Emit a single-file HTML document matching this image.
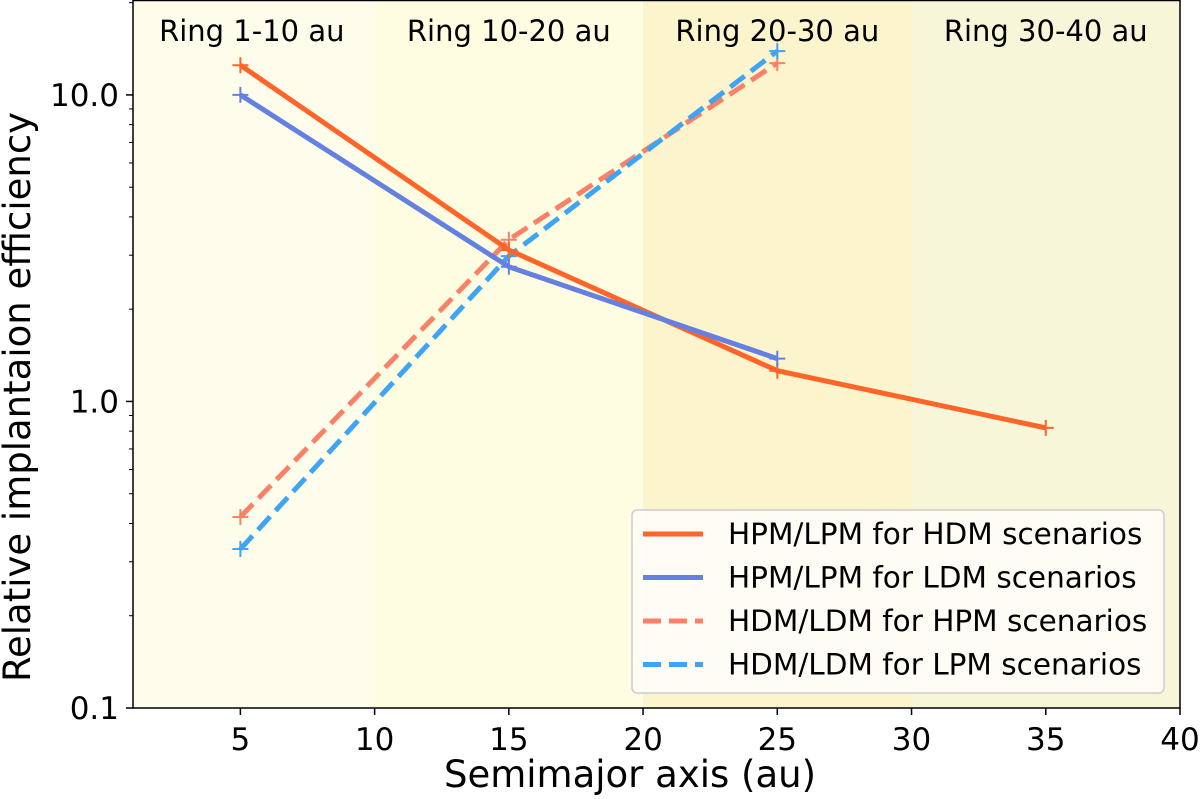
<!DOCTYPE html>
<html><head><meta charset="utf-8"><style>
body{margin:0;background:#fff}
svg{display:block;font-family:"DejaVu Sans","Liberation Sans",sans-serif}
</style></head><body>
<svg id="chart" width="1200" height="799"></svg>
<script>
const categories=[5,15,25,35];
const hdmSeries=[12.5,3.12,1.26,0.82];
const ldmSeries=[10.0,2.75,1.38];
const hpmSeries=[0.42,3.37,12.7];
const lpmSeries=[0.33,2.98,13.9];
const xTicks=[5,10,15,20,25,30,35,40];
const yTicks=[0.1,1,10];
const yTickLabels=["0.1","1.0","10.0"];
const ringStarts=[1,10,20,30];
const ringEnds=[10,20,30,40];
const ringLabels=["Ring 1-10 au","Ring 10-20 au","Ring 20-30 au","Ring 30-40 au"];
const ringColors=["#fefdec","#fefde2","#fcf4cc","#f8f6d8"];

const L=133,R=1180,T=0,B=708;
const xmin=1,xmax=40;
const ymin=-1,ymax=Math.log10(20.4);
const X=v=>L+(v-xmin)/(xmax-xmin)*(R-L);
const Y=v=>B-(Math.log10(v)-ymin)/(ymax-ymin)*(B-T);
const svg=document.getElementById('chart');
const NS='http://www.w3.org/2000/svg';
function mk(tag,attrs,parent){const e=document.createElementNS(NS,tag);for(const k in attrs)e.setAttribute(k,attrs[k]);(parent||svg).appendChild(e);return e;}

ringStarts.forEach((s,i)=>{
  const r=mk('rect',{x:X(s),y:T,width:X(ringEnds[i])-X(s),height:B-T,fill:ringColors[i]});
  
  
  const t=mk('text',{x:(X(s)+X(ringEnds[i]))/2+(i==0?-2:0),y:41,'font-size':29,'text-anchor':'middle',fill:'#000'});
  t.textContent=ringLabels[i];
  
  
});

xTicks.forEach(v=>{
  mk('line',{x1:X(v),x2:X(v),y1:B,y2:B+7,stroke:'#000','stroke-width':1.5});
  const t=mk('text',{x:X(v),y:B+42,'font-size':31,'text-anchor':'middle'});
  t.textContent=v;
  
  
});
yTicks.forEach((v,i)=>{
  mk('line',{x1:L-7,x2:L,y1:Y(v),y2:Y(v),stroke:'#000','stroke-width':1.5});
  const t=mk('text',{x:L-14,y:Y(v)+11,'font-size':31,'text-anchor':'end'});
  t.textContent=yTickLabels[i];
  
  
});
[0.1,1,10].forEach(d=>{for(let m=2;m<=9;m++){const v=d*m;if(Math.log10(v)>ymax)continue;mk('line',{x1:L-4,x2:L,y1:Y(v),y2:Y(v),stroke:'#000','stroke-width':1});}});

function series(vals,color,dash,name){
  const pts=vals.map((v,i)=>X(categories[i])+','+Y(v)).join(' ');
  const p=mk('polyline',{points:pts,fill:'none',stroke:color,'stroke-width':5,'stroke-dasharray':dash||'none'});
  
  
  vals.forEach((v,i)=>{const x=X(categories[i]),y=Y(v);
    mk('path',{d:`M${x-8},${y}H${x+8}M${x},${y-8}V${y+8}`,stroke:color,'stroke-width':2});});
}
series(hpmSeries,'#fa8068','18,8','line-hdm-ldm-hpm');
series(lpmSeries,'#3ea4f5','18,8','line-hdm-ldm-lpm');
series(hdmSeries,'#ff6528','','line-hpm-lpm-hdm');
series(ldmSeries,'#6480e0','','line-hpm-lpm-ldm');

mk('rect',{x:L,y:T+0.5,width:R-L,height:B-T-0.5,fill:'none',stroke:'#000','stroke-width':1.5});

const lg=mk('g',{});


mk('rect',{x:632,y:510,width:532,height:183,rx:5,fill:'#fefdf8','fill-opacity':0.9,stroke:'#ccc','stroke-width':1.5},lg);
const legItems=[["HPM/LPM for HDM scenarios",'#ff6528',''],["HPM/LPM for LDM scenarios",'#6480e0',''],["HDM/LDM for HPM scenarios",'#fa8068','18,8'],["HDM/LDM for LPM scenarios",'#3ea4f5','18,8']];
legItems.forEach((it,i)=>{
  const y=534+i*43.5;
  mk('line',{x1:643,x2:703,y1:y,y2:y,stroke:it[1],'stroke-width':5,'stroke-dasharray':it[2]||'none'},lg);
  const t=mk('text',{x:728,y:y+10,'font-size':29.5},lg);
  t.textContent=it[0];
  
  
});

const xt=mk('text',{x:630,y:787,'font-size':37,'text-anchor':'middle'});
xt.textContent='Semimajor axis (au)';


const yt=mk('text',{x:0,y:0,'font-size':37,'text-anchor':'middle',transform:`translate(30,397) rotate(-90)`});
yt.textContent='Relative implantaion efficiency';


</script>
</body></html>
